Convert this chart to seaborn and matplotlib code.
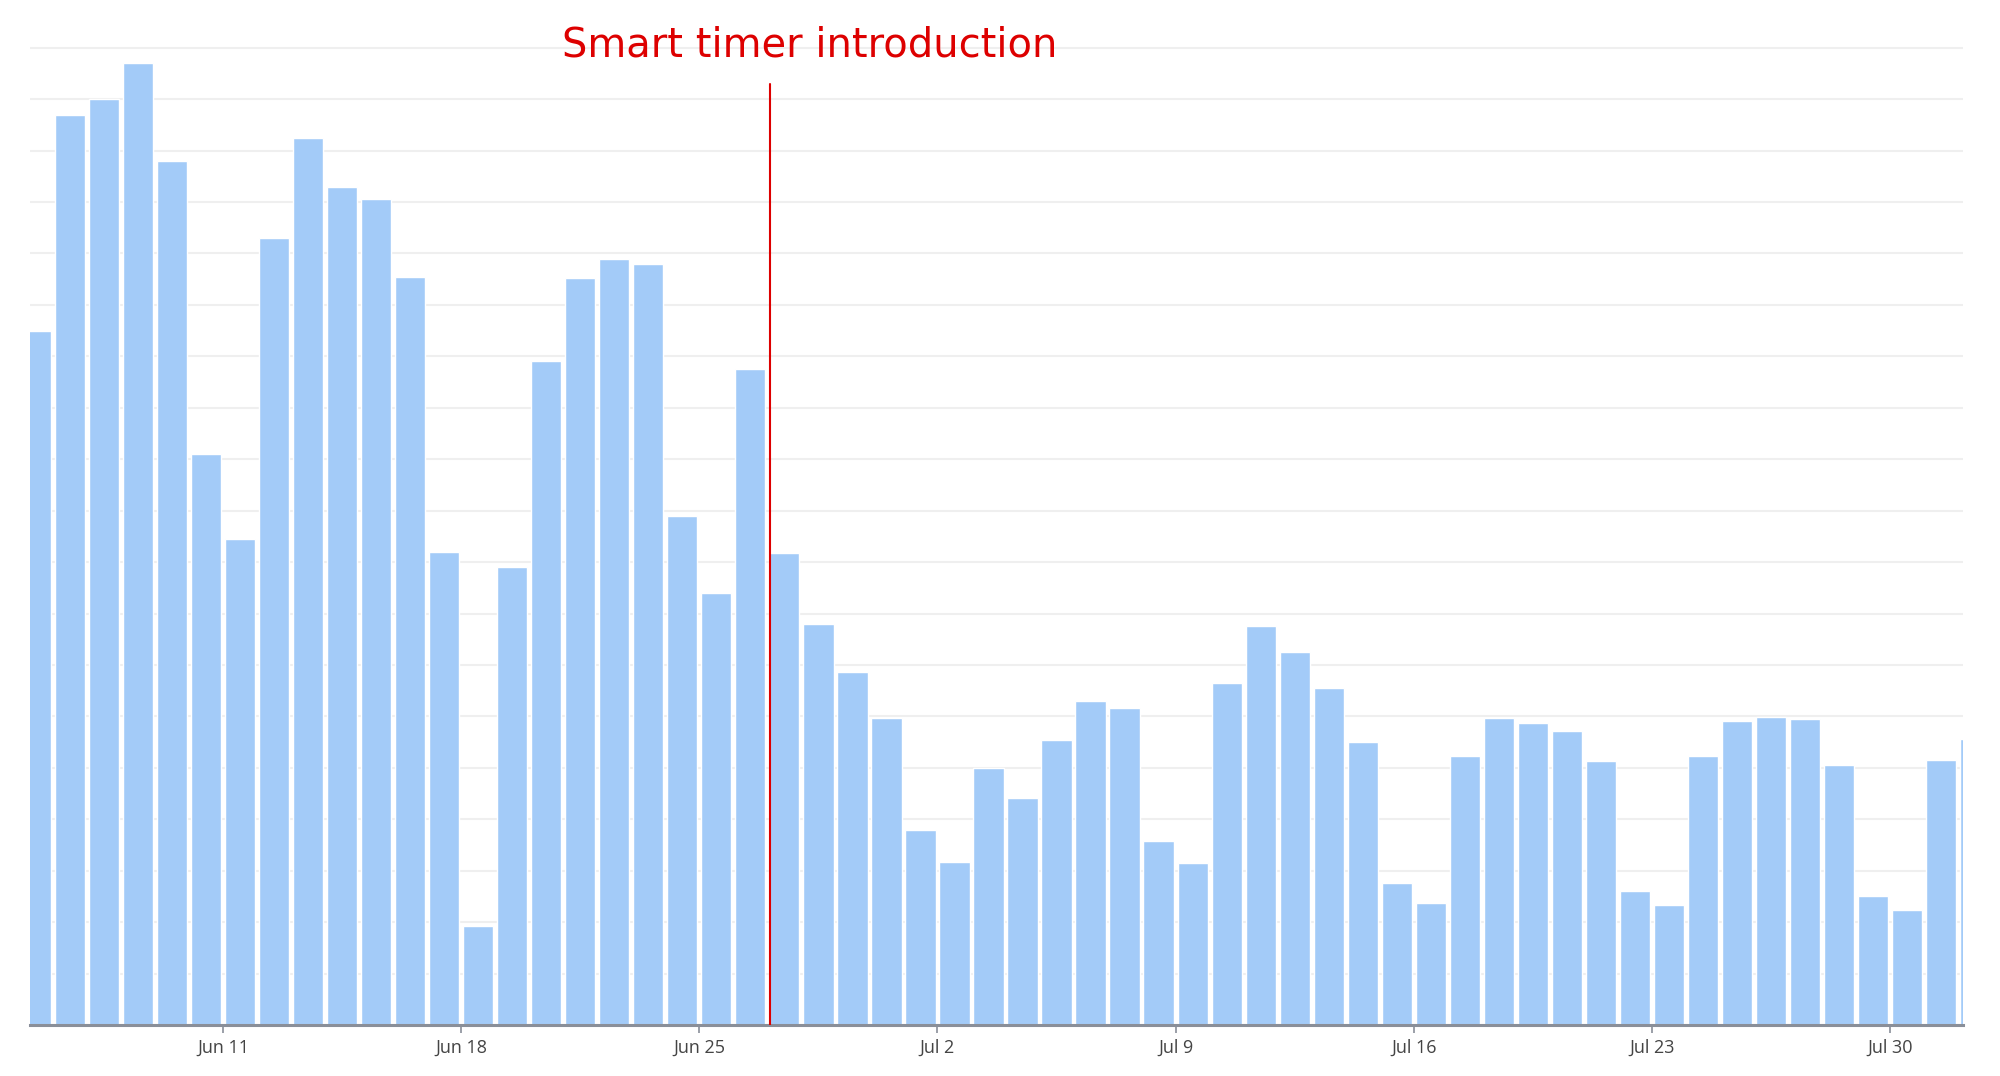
import pandas as pd
import matplotlib.pyplot as plt
import seaborn as sns

# daily values, Jun 5 .. Aug 1 (gridline units, no y labels in the original)
days = pd.date_range('2018-06-05', '2018-08-01', freq='D')
values = [
    13.5, 17.7, 18.0, 18.7, 16.8, 11.1, 9.45, 15.3, 17.25, 16.3,
    16.05, 14.55, 9.2, 1.93, 8.9, 12.9, 14.52, 14.9, 14.8, 9.9,
    8.4, 12.75, 9.17, 7.8, 6.86, 5.97,
    3.79, 3.17, 5.0, 4.41, 5.55, 6.29, 6.17, 3.57, 3.15, 6.64,
    7.75, 7.26, 6.56, 5.5, 2.77, 2.38, 5.23, 5.97, 5.87, 5.72,
    5.13, 2.6, 2.33, 5.23, 5.92, 5.99, 5.95, 5.05, 2.5, 2.23,
    5.15, 5.57,
]
tick_dates = ['2018-06-11', '2018-06-18', '2018-06-25', '2018-07-02',
              '2018-07-09', '2018-07-16', '2018-07-23', '2018-07-30']
tick_labels = ['Jun 11', 'Jun 18', 'Jun 25', 'Jul 2',
               'Jul 9', 'Jul 16', 'Jul 23', 'Jul 30']
event_date = '2018-06-27'
event_text = 'Smart timer introduction'

df = pd.DataFrame({'day': days.strftime('%Y-%m-%d'), 'value': values})

sns.set_style('white')
plt.rcParams['font.family'] = ['Open Sans', 'DejaVu Sans']

fig = plt.figure(figsize=(20, 10.76), dpi=100)
ax = fig.add_axes([0.015, 0.0474, 0.9665, 0.9178])

sns.barplot(data=df, x='day', y='value', color='#a3cbf8', saturation=1,
            width=0.89, ax=ax, zorder=2)

# day bins: tick at the left edge of each day's bar
day_list = list(df['day'])
def edge(d):
    return day_list.index(d) - 0.5

ax.set_xlim(-0.17, 56.64)
ax.set_ylim(0, 19.2)
ax.set_yticks(range(0, 20))
ax.set_yticklabels([])
ax.tick_params(axis='y', length=0)
ax.grid(axis='y', color='#efefef', linewidth=1.5, zorder=0)
ax.set_axisbelow(True)

ax.set_xticks([edge(d) for d in tick_dates])
ax.set_xticklabels(tick_labels, fontsize=13, color='#444444')
ax.tick_params(axis='x', length=6, width=1.2, color='#8a8f99', pad=4,
               bottom=True)
ax.set_xlabel('')
ax.set_ylabel('')

for s in ['top', 'right', 'left']:
    ax.spines[s].set_visible(False)
ax.spines['bottom'].set_color('#8a8f99')
ax.spines['bottom'].set_linewidth(2.2)
ax.spines['bottom'].set_zorder(3)

x_ev = edge(event_date) + 0.07
ax.plot([x_ev, x_ev], [0, 18.3], color='#dd0000', linewidth=1.5, zorder=4)
ax.text(x_ev + 1.17, 18.82, event_text, color='#dd0000', fontsize=28.8,
        ha='center', va='baseline', family=['DejaVu Sans'])

fig.savefig('out.png', dpi=100)
